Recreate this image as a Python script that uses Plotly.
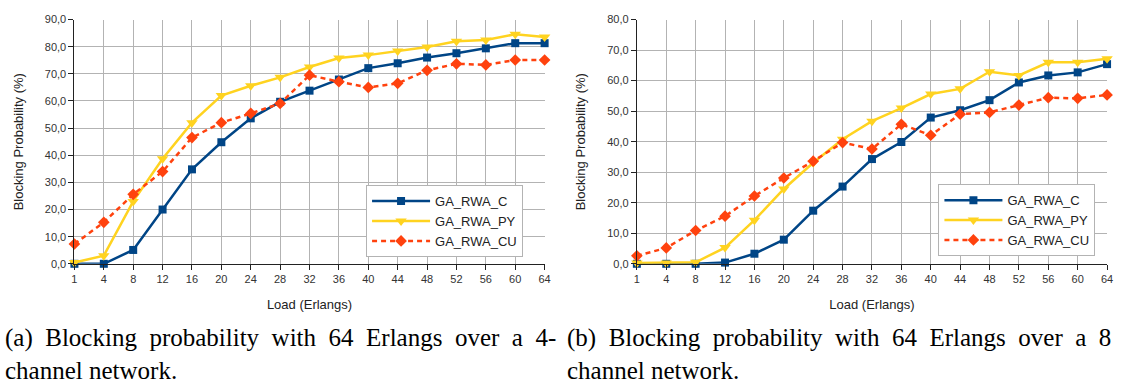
import plotly.graph_objects as go

loads = ["1", "4", "8", "12", "16", "20", "24", "28", "32", "36", "40", "44", "48", "52", "56", "60", "64"]

# (a) 4-channel network
c4 = [0.0, 0.0, 5.1, 20.0, 34.8, 44.8, 53.6, 59.7, 63.8, 67.9, 72.1, 73.9, 76.0, 77.6, 79.4, 81.3, 81.3]
py4 = [0.5, 3.0, 23.0, 38.7, 52.0, 62.0, 65.6, 68.7, 72.5, 75.8, 76.9, 78.4, 79.9, 82.0, 82.5, 84.6, 83.6]
cu4 = [7.3, 15.3, 25.6, 34.0, 46.5, 52.0, 55.4, 59.1, 69.5, 67.1, 65.0, 66.5, 71.3, 73.7, 73.3, 75.1, 75.1]

# (b) 8-channel network
c8 = [0.0, 0.0, 0.0, 0.4, 3.3, 7.9, 17.4, 25.3, 34.3, 39.9, 47.9, 50.3, 53.6, 59.4, 61.7, 62.7, 65.4]
py8 = [0.3, 0.3, 0.5, 5.3, 14.3, 24.5, 33.1, 40.8, 46.7, 51.0, 55.6, 57.3, 62.9, 61.7, 66.0, 66.0, 67.2]
cu8 = [2.6, 5.2, 10.9, 15.6, 22.2, 28.1, 33.6, 39.7, 37.6, 45.7, 42.1, 49.0, 49.6, 52.0, 54.4, 54.2, 55.3]

series_names = ["GA_RWA_C", "GA_RWA_PY", "GA_RWA_CU"]
colors = ["#004586", "#ffd320", "#ff420e"]
symbols = ["square", "triangle-down", "diamond"]
msizes = [8, 10, 9]
dashes = ["solid", "solid", "5px,4px"]

captions_a = ["(a) Blocking probability with 64 Erlangs over a 4-", "channel network."]
captions_b = ["(b) Blocking probability with 64 Erlangs over a 8", "channel network."]

W, H = 1121, 389

fig = go.Figure()

for panel, (data, xa, ya, lg) in enumerate([
    ([c4, py4, cu4], "x", "y", "legend"),
    ([c8, py8, cu8], "x2", "y2", "legend2"),
]):
    for i, vals in enumerate(data):
        fig.add_trace(go.Scatter(
            x=loads, y=vals, name=series_names[i], mode="lines+markers",
            xaxis=xa, yaxis=ya, legend=lg, cliponaxis=False,
            line=dict(color=colors[i], width=2.5, dash=dashes[i]),
            marker=dict(symbol=symbols[i], size=msizes[i], color=colors[i]),
        ))

def px_x(p):
    return p / W

def px_y(p):
    return (H - p) / H

font_sans = "Liberation Sans, Arial, sans-serif"
tickfont = dict(family=font_sans, size=11, color="#333333")
titlefont = dict(family=font_sans, size=13, color="#222222")

common_x = dict(type="category", range=[0, 16], showgrid=True, gridcolor="#b3b3b3", gridwidth=1,
                showline=True, linecolor="#222222", linewidth=1, ticks="outside", ticklen=5,
                tickcolor="#222222", tickfont=tickfont, zeroline=False,
                title=dict(text="Load (Erlangs)", font=titlefont, standoff=15))
common_y = dict(showgrid=True, gridcolor="#b3b3b3", gridwidth=1, showline=True,
                linecolor="#222222", linewidth=1, ticks="outside", ticklen=5, tickcolor="#222222",
                tickfont=tickfont, zeroline=False, tickformat=".1f", dtick=10,
                title=dict(text="Blocking Probability (%)", font=titlefont, standoff=18))

ydom = [px_y(266), px_y(14)]

legfont = dict(family=font_sans, size=13, color="#222222")

fig.update_layout(
    width=W, height=H, margin=dict(l=0, r=0, t=0, b=0),
    paper_bgcolor="white", plot_bgcolor="white",
    separators=",.",
    xaxis=dict(common_x, domain=[px_x(72), px_x(546)], anchor="y"),
    yaxis=dict(common_y, domain=ydom, range=[0, 90], anchor="x"),
    xaxis2=dict(common_x, domain=[px_x(639), px_x(1113)], anchor="y2"),
    yaxis2=dict(common_y, domain=ydom, range=[0, 80], anchor="x2"),
    legend=dict(x=px_x(366), y=px_y(222), xanchor="left", yanchor="middle",
                bgcolor="white", bordercolor="#b3b3b3", borderwidth=1,
                font=legfont, itemwidth=58, tracegroupgap=0),
    legend2=dict(x=px_x(943), y=px_y(221), xanchor="left", yanchor="middle",
                 bgcolor="white", bordercolor="#b3b3b3", borderwidth=1,
                 font=legfont, itemwidth=58, tracegroupgap=0),
    showlegend=True,
)

def justify(s, extra):
    # widen inter-word gaps to imitate the justified caption line
    return s.replace(" ", " " + "\u00a0" * extra)

serif = dict(family="Liberation Serif, Times New Roman, serif", size=25, color="black")
for xs, lines in [(0, captions_a), (567, captions_b)]:
    text = justify(lines[0], 1) + "<br>" + lines[1]
    fig.add_annotation(text=text, xref="paper", yref="paper", x=px_x(xs), y=px_y(359.5),
                       xanchor="left", yanchor="middle", showarrow=False, font=serif,
                       align="left")

fig.write_html("out.html")
